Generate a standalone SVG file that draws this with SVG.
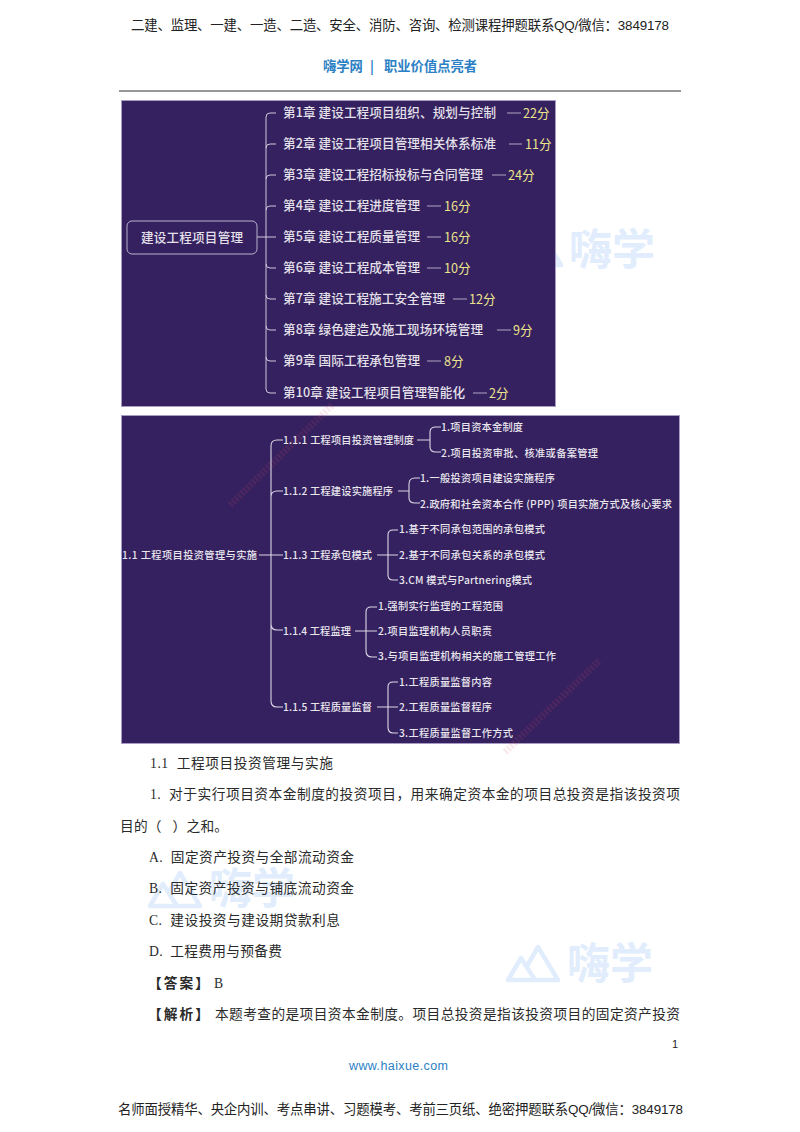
<svg xmlns="http://www.w3.org/2000/svg" width="800" height="1132" viewBox="0 0 800 1132">
<defs>
<path id="logo" d="M508 980 L521 958 L535 980 Z M527 966 L538 947 L558 980 L535 980"/>
</defs>
<style>
text{font-family:"Liberation Sans","Noto Sans CJK SC",sans-serif;white-space:pre}
.doc{font-family:"Liberation Serif","Noto Sans CJK SC",serif;font-size:13.7px;fill:#2a2a2a}
.hd{font-size:13.4px;fill:#222}
.a{font-size:12.6px;fill:#e4e0ea;font-weight:500;font-family:"Noto Sans CJK SC",sans-serif}
.y{font-size:12.6px;fill:#ece48c;font-family:"Noto Sans CJK SC",sans-serif}
.b{font-size:10.2px;fill:#e9e6ee;font-weight:500;font-family:"Noto Sans CJK SC",sans-serif}
.c{fill:none;stroke:#cfc8dc;stroke-width:1}
.c2{fill:none;stroke:#ddd8e6;stroke-width:1.1}
.wm{font-family:"Noto Sans CJK SC",sans-serif;font-size:43px;font-weight:700;fill:#e1edfc}
.lg{fill:none;stroke:#e1edfc;stroke-width:4.500;stroke-linejoin:round}
.rd{fill:none;stroke:#e0506a;stroke-width:7;stroke-dasharray:2.500 1.500;opacity:.13}
.blue{font-size:13.3px;font-weight:700;fill:#2b7fc4;font-family:"Noto Sans CJK SC",sans-serif}
.p{fill:#35215f;stroke:#a99cc4;stroke-width:1}
</style>
<rect width="800" height="1132" fill="#fff"/>
<g id="watermarks">
<text class="wm" x="569" y="265">嗨学</text>
<use href="#logo" class="lg" transform="translate(3 -715)"/>
<text class="wm" x="209" y="904">嗨学</text>
<use href="#logo" class="lg" transform="translate(-358 -74)"/>
<text class="wm" x="567" y="979">嗨学</text>
<use href="#logo" class="lg"/>
</g>
<g id="header">
<text class="hd" x="131" y="30" textLength="538">二建、监理、一建、一造、二造、安全、消防、咨询、检测课程押题联系QQ/微信：3849178</text>
<text class="blue" x="323" y="71">嗨学网</text><text class="blue" x="370" y="71">|</text><text class="blue" x="384" y="71">职业价值点亮者</text>
<line x1="119" y1="91" x2="681" y2="91" stroke="#333" stroke-width="1.200"/>
</g>
<g id="panel1"><rect class="p" x="121.500" y="100.500" width="434" height="306"/></g>
<g id="panel2"><rect class="p" x="121.500" y="415.500" width="558" height="328"/></g>
<g id="stamps">
<path class="rd" d="M230 505 L332 405"/>
<path class="rd" d="M505 752 L600 660"/>
</g>
<g id="connectors">
<path class="c" d="M257 237H276M266 237V117Q266 113 270 113H276M266 237V389Q266 393 270 393H276M266 148Q266 144 270 144H276M266 179Q266 175 270 175H276M266 210Q266 206 270 206H276M266 264Q266 268 270 268H276M266 295Q266 299 270 299H276M266 326Q266 330 270 330H276M266 357Q266 361 270 361H276"/>
<path class="c" d="M507 113H521M509 144H522M492 175H506M427 206H441M427 237H441M427 268H441M453 299H467M497 330H511M427 361H441M473 393H487" stroke-opacity=".8"/>
<path class="c2" d="M259 555H283M271 555V446Q271 440 277 440H283M271 555V701Q271 707 277 707H283M271 497Q271 491 277 491H283M271 624Q271 630 277 630H283"/>
<path class="c2" d="M417 440H430M430 440V432Q430 427 436 427H441M430 440V447Q430 452 436 452H441"/>
<path class="c2" d="M398 491H409M409 491V484Q409 478 415 478H420M409 491V498Q409 503 415 503H420"/>
<path class="c2" d="M377 555H398M388 555V535Q388 530 393 530H398M388 555V575Q388 580 393 580H398"/>
<path class="c2" d="M355 631H377M366 631V612Q366 607 371 607H377M366 631V651Q366 657 372 657H377"/>
<path class="c2" d="M377 707H398M388 707V687Q388 682 393 682H398M388 707V727Q388 733 393 733H398"/>
</g>
<g id="root1">
<rect x="127" y="221" width="130" height="33" rx="5" fill="none" stroke="#b9b1cb" stroke-width="1"/>
<text class="a" x="141" y="242" textLength="102">建设工程项目管理</text>
</g>
<g id="ch1"><text class="a" x="283" y="117" textLength="213">第1章 建设工程项目组织、规划与控制</text><text class="y" x="523" y="118">22分</text></g>
<g id="ch2"><text class="a" x="283" y="148" textLength="213">第2章 建设工程项目管理相关体系标准</text><text class="y" x="525" y="149">11分</text></g>
<g id="ch3"><text class="a" x="283" y="179" textLength="200">第3章 建设工程招标投标与合同管理</text><text class="y" x="508" y="180">24分</text></g>
<g id="ch4"><text class="a" x="283" y="210" textLength="137">第4章 建设工程进度管理</text><text class="y" x="444" y="211">16分</text></g>
<g id="ch5"><text class="a" x="283" y="241" textLength="137">第5章 建设工程质量管理</text><text class="y" x="444" y="242">16分</text></g>
<g id="ch6"><text class="a" x="283" y="272" textLength="137">第6章 建设工程成本管理</text><text class="y" x="444" y="273">10分</text></g>
<g id="ch7"><text class="a" x="283" y="303" textLength="162">第7章 建设工程施工安全管理</text><text class="y" x="469" y="304">12分</text></g>
<g id="ch8"><text class="a" x="283" y="334" textLength="200">第8章 绿色建造及施工现场环境管理</text><text class="y" x="513" y="335">9分</text></g>
<g id="ch9"><text class="a" x="283" y="365" textLength="137">第9章 国际工程承包管理</text><text class="y" x="444" y="366">8分</text></g>
<g id="ch10"><text class="a" x="283" y="397" textLength="182">第10章 建设工程项目管理智能化</text><text class="y" x="489" y="398">2分</text></g>
<g id="root2"><text class="b" x="122" y="559" textLength="135">1.1 工程项目投资管理与实施</text></g>
<g id="n111"><text class="b" x="283" y="444" textLength="131">1.1.1 工程项目投资管理制度</text></g>
<g id="n112"><text class="b" x="283" y="495" textLength="110">1.1.2 工程建设实施程序</text></g>
<g id="n113"><text class="b" x="283" y="559" textLength="89">1.1.3 工程承包模式</text></g>
<g id="n114"><text class="b" x="283" y="635" textLength="68">1.1.4 工程监理</text></g>
<g id="n115"><text class="b" x="283" y="711" textLength="89">1.1.5 工程质量监督</text></g>
<g id="l1"><text class="b" x="441" y="431" textLength="82">1.项目资本金制度</text><text class="b" x="441" y="457" textLength="157">2.项目投资审批、核准或备案管理</text></g>
<g id="l2"><text class="b" x="420" y="482" textLength="135">1.一般投资项目建设实施程序</text><text class="b" x="420" y="508" textLength="252">2.政府和社会资本合作 (PPP) 项目实施方式及核心要求</text></g>
<g id="l3"><text class="b" x="399" y="533" textLength="146">1.基于不同承包范围的承包模式</text><text class="b" x="399" y="559" textLength="146">2.基于不同承包关系的承包模式</text><text class="b" x="399" y="584" textLength="133">3.CM 模式与Partnering模式</text></g>
<g id="l4"><text class="b" x="378" y="610" textLength="125">1.强制实行监理的工程范围</text><text class="b" x="378" y="635" textLength="114">2.项目监理机构人员职责</text><text class="b" x="378" y="660" textLength="178">3.与项目监理机构相关的施工管理工作</text></g>
<g id="l5"><text class="b" x="399" y="686" textLength="93">1.工程质量监督内容</text><text class="b" x="399" y="711" textLength="93">2.工程质量监督程序</text><text class="b" x="399" y="737" textLength="114">3.工程质量监督工作方式</text></g>
<g id="body">
<text class="doc" x="150" y="768" textLength="183">1.1  工程项目投资管理与实施</text>
<text class="doc" x="150" y="799" textLength="530">1.  对于实行项目资本金制度的投资项目，用来确定资本金的项目总投资是指该投资项</text>
<text class="doc" x="120" y="831" textLength="108">目的（   ）之和。</text>
<text class="doc" x="149" y="862" textLength="205">A.  固定资产投资与全部流动资金</text>
<text class="doc" x="149" y="893" textLength="205">B.  固定资产投资与铺底流动资金</text>
<text class="doc" x="149" y="925" textLength="191">C.  建设投资与建设期贷款利息</text>
<text class="doc" x="149" y="956" textLength="133">D.  工程费用与预备费</text>
<text class="doc" x="148" y="988" font-weight="700" textLength="61">【答案】</text><text class="doc" x="214" y="988">B</text>
<text class="doc" x="148" y="1019" font-weight="700" textLength="61">【解析】</text>
<text class="doc" x="215" y="1019" textLength="465">本题考查的是项目资本金制度。项目总投资是指该投资项目的固定资产投资</text>
</g>
<g id="footer">
<text x="672" y="1048" font-size="11" fill="#222" font-family="Liberation Sans">1</text>
<text x="349" y="1070" font-size="12.500" fill="#2b7fc4" font-family="Open Sans" textLength="99">www.haixue.com</text>
<text class="hd" x="118" y="1114" textLength="565">名师面授精华、央企内训、考点串讲、习题模考、考前三页纸、绝密押题联系QQ/微信：3849178</text>
</g>
</svg>
